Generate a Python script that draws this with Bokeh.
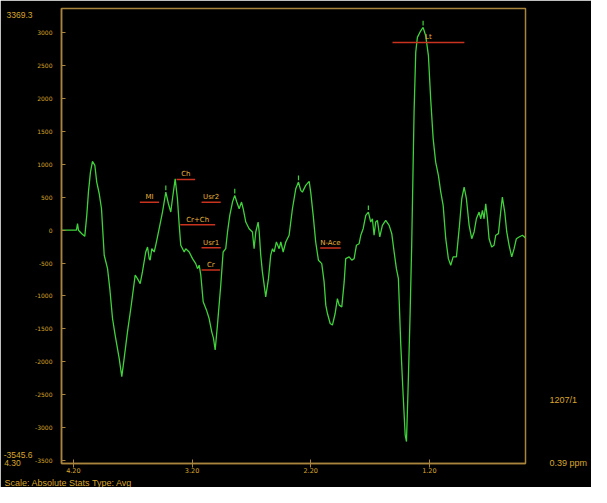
from bokeh.plotting import figure
from bokeh.models import Range1d, FixedTicker, LinearAxis, Title, ColumnDataSource
from bokeh.core.properties import value
from bokeh.embed import file_html
from bokeh.resources import INLINE

# ---- data ----
ppm = [
    4.300, 4.174, 4.165, 4.157, 4.129, 4.104, 4.087, 4.073, 4.056, 4.039,
    4.019, 4.003, 3.982, 3.963, 3.940, 3.912, 3.893, 3.870, 3.848, 3.814,
    3.792, 3.772, 3.744, 3.716, 3.679, 3.660, 3.637, 3.618, 3.590, 3.575,
    3.561, 3.553, 3.539, 3.519, 3.506, 3.477, 3.449, 3.421, 3.399, 3.379,
    3.365, 3.342, 3.323, 3.308, 3.295, 3.266, 3.253, 3.224, 3.196, 3.169,
    3.154, 3.140, 3.126, 3.106, 3.078, 3.056, 3.034, 3.019, 3.005, 2.986,
    2.958, 2.938, 2.916, 2.901, 2.882, 2.859, 2.840, 2.823, 2.803, 2.783,
    2.769, 2.747, 2.719, 2.691, 2.677, 2.663, 2.643, 2.634, 2.621, 2.607,
    2.592, 2.579, 2.556, 2.537, 2.522, 2.508, 2.489, 2.466, 2.452, 2.432,
    2.410, 2.382, 2.354, 2.326, 2.303, 2.284, 2.270, 2.242, 2.213, 2.200,
    2.179, 2.158, 2.135, 2.107, 2.087, 2.073, 2.059, 2.036, 2.017, 1.994,
    1.975, 1.960, 1.938, 1.918, 1.905, 1.876, 1.854, 1.834, 1.815, 1.792,
    1.778, 1.758, 1.736, 1.714, 1.694, 1.680, 1.666, 1.652, 1.638, 1.618,
    1.596, 1.568, 1.539,
    1.517, 1.497, 1.478, 1.461, 1.441, 1.421, 1.404, 1.393, 1.377, 1.362,
    1.349, 1.340, 1.329, 1.315, 1.301, 1.273, 1.253, 1.231, 1.208, 1.189,
    1.168, 1.147, 1.124, 1.104, 1.084, 1.062, 1.040, 1.020, 1.000, 0.972,
    0.949, 0.927, 0.907, 0.888, 0.865, 0.843, 0.823, 0.804, 0.781, 0.767,
    0.753, 0.739, 0.725, 0.711, 0.697, 0.675, 0.655, 0.641, 0.618, 0.599,
    0.585, 0.565, 0.548, 0.528, 0.506, 0.486, 0.467, 0.444, 0.416, 0.390,
]
intensity = [
    0, 0, 100, 0, -53, -93, 226, 579, 883, 1045,
    984, 731, 554, 326, -381, -584, -887, -1342, -1594, -1949,
    -2226, -1949, -1544, -1190, -684, -736, -811, -634, -331, -255,
    -432, -456, -281, -331, -229, 23, 276, 579, 402, 276,
    478, 781, 478, 74, -229, -331, -281, -331, -432, -508,
    -584, -532, -684, -1089, -1215, -1342, -1544, -1645, -1821, -1442,
    -836, -331, -281, -27, 226, 428, 529, 428, 326, 428,
    326, 124, 23, -27, -281, -27, 124, -27, -381, -634,
    -836, -1013, -736, -381, -281, -331, -179, -281, -179, -331,
    -179, -77, 326, 629, 731, 605, 579, 681, 742, 579,
    226, -179, -456, -508, -786, -1139, -1266, -1418, -1442, -1266,
    -1039, -1139, -1165, -786, -432, -406, -456, -432, -229, -205,
    -77, 23, 226, 276, 124, 174, -77, 124, 150, -103,
    74, 150, 74,
    -53, -331, -584, -736, -1745, -2504, -3110, -3212, -2252, -1240,
    -229, 681, 1793, 2702, 2930, 3031, 3082, 2956, 2652, 1994,
    1388, 1034, 833, 579, 378, -129, -432, -532, -406, -406,
    23, 478, 655, 478, 74, -129, -27, 174, 276, 174,
    302, 174, 402, 174, -129, -255, -229, -77, -53, 276,
    503, 276, -27, -229, -406, -281, -129, -103, -77, -118,
]

# peak markers (small ticks above picked peaks)
peak_ppm = [3.421, 2.840, 2.303, 1.714, 1.253]
peak_val = [579, 529, 731, 276, 3082]

# metabolite fit ranges
met_names = ["MI", "Ch", "Usr2", "Cr+Ch", "Usr1", "Cr", "N-Ace", "Lt"]
met_start = [3.640, 3.331, 3.120, 3.300, 3.120, 3.120, 2.120, 1.511]
met_end = [3.478, 3.174, 2.958, 3.005, 2.958, 2.963, 1.947, 0.905]
met_level = [423, 772, 423, 83, -265, -604, -270, 2854]

y_min, y_max = -3545.6, 3369.3
x_left, x_right = 4.30, 0.39
y_ticks = [-3500, -3000, -2500, -2000, -1500, -1000, -500, 0,
           500, 1000, 1500, 2000, 2500, 3000]
x_ticks = [4.2, 3.2, 2.2, 1.2]
x_tick_labels = ["4.20", "3.20", "2.20", "1.20"]

# side annotations of the display
range_top_text = "3369.3"
range_bottom_text = "-3545.6"
ppm_left_text = "4.30"
ppm_right_text = "0.39 ppm"
voxel_text = "1207/1"
voxel_level = -2579
footer_text = "Scale: Absolute Stats Type: Avg"

# ---- styling ----
W, H = 591, 487
FL, FR, FT, FB = 61, 66, 8, 23          # frame borders
AXIS = "#a8843c"
GOLD = "#d9a62a"
GREEN = "#3fd23a"
RED = "#c8321e"
FONT = "DejaVu Sans"
SIDE_FONT = "Liberation Sans"
NB = "\u00a0"

p = figure(width=W, height=H, output_backend="svg", toolbar_location=None,
           x_range=Range1d(x_left, x_right), y_range=Range1d(y_min, y_max),
           min_border_left=FL, min_border_right=FR, min_border_top=FT,
           min_border_bottom=FB)
p.background_fill_color = "black"
p.border_fill_color = "black"
p.outline_line_color = AXIS
p.outline_line_width = 1.5
p.xgrid.visible = False
p.ygrid.visible = False

p.yaxis.ticker = FixedTicker(ticks=y_ticks)
p.yaxis.major_label_overrides = {t: str(t) for t in y_ticks}
p.yaxis.axis_line_color = AXIS
p.yaxis.axis_line_width = 1.5
p.yaxis.major_tick_line_color = AXIS
p.yaxis.major_tick_in = 4
p.yaxis.major_tick_out = 0
p.yaxis.minor_tick_line_color = None
p.yaxis.major_label_text_color = GOLD
p.yaxis.major_label_text_font = FONT
p.yaxis.major_label_text_font_size = "6px"
p.yaxis.major_label_standoff = 9

p.xaxis.ticker = FixedTicker(ticks=x_ticks)
p.xaxis.major_label_overrides = dict(zip(x_ticks, x_tick_labels))
p.xaxis.axis_line_color = AXIS
p.xaxis.axis_line_width = 1.5
p.xaxis.major_tick_line_color = AXIS
p.xaxis.major_tick_in = 4
p.xaxis.major_tick_out = 4
p.xaxis.minor_tick_line_color = None
p.xaxis.major_label_text_color = GOLD
p.xaxis.major_label_text_font = FONT
p.xaxis.major_label_text_font_size = "6.5px"
p.xaxis.major_label_standoff = 0

# outer left axis carrying the range read-outs
top_pos = y_max - 106
bot_pos = y_max - 6790
edge_pos = y_min + 1
outer = LinearAxis(ticker=FixedTicker(ticks=[top_pos, bot_pos, edge_pos]),
                   major_label_overrides={top_pos: range_top_text,
                                          bot_pos: range_bottom_text,
                                          edge_pos: ppm_left_text + NB * 5},
                   axis_line_color=None, major_tick_line_color=None,
                   minor_tick_line_color=None, major_tick_in=0,
                   major_tick_out=0, major_label_standoff=0,
                   major_label_text_color=GOLD,
                   major_label_text_font=SIDE_FONT,
                   major_label_text_font_size="8.5px")
p.add_layout(outer, "left")

# right axis carrying the voxel and ppm read-outs
right = LinearAxis(ticker=FixedTicker(ticks=[voxel_level, edge_pos]),
                   major_label_overrides={voxel_level: voxel_text,
                                          edge_pos: ppm_right_text},
                   axis_line_color=None, major_tick_line_color=None,
                   minor_tick_line_color=None, major_tick_in=0,
                   major_tick_out=0, major_label_standoff=24,
                   major_label_text_color=GOLD,
                   major_label_text_font=SIDE_FONT,
                   major_label_text_font_size="9px")
p.add_layout(right, "right")

p.add_layout(Title(text=footer_text, align="left", offset=-57, standoff=0,
                   text_color=GOLD, text_font=SIDE_FONT,
                   text_font_size="9px", text_font_style="normal"), "below")

# spectrum
p.line(ppm, intensity, line_color=GREEN, line_width=1.3)

# peak markers
pk = ColumnDataSource(dict(x=peak_ppm, v=peak_val,
                           y0=[v + 30 for v in peak_val],
                           y1=[v + 100 for v in peak_val]))
p.segment(x0="x", x1="x", y0="y0", y1="y1", source=pk,
          line_color=GREEN, line_width=1.2)

# metabolite ranges
ms = ColumnDataSource(dict(
    x0=met_start, x1=met_end, y=met_level, name=met_names,
    xc=[(a + b) / 2 for a, b in zip(met_start, met_end)]))
p.segment(x0="x0", x1="x1", y0="y", y1="y", source=ms,
          line_color=RED, line_width=1.5)
p.text(x="xc", y="y", text="name", source=ms, text_color="#e8b23a",
       text_font=value(FONT), text_font_size="7px",
       text_align="center", text_baseline="bottom", y_offset=-1)

open("out.html", "w").write(file_html(p, INLINE))
